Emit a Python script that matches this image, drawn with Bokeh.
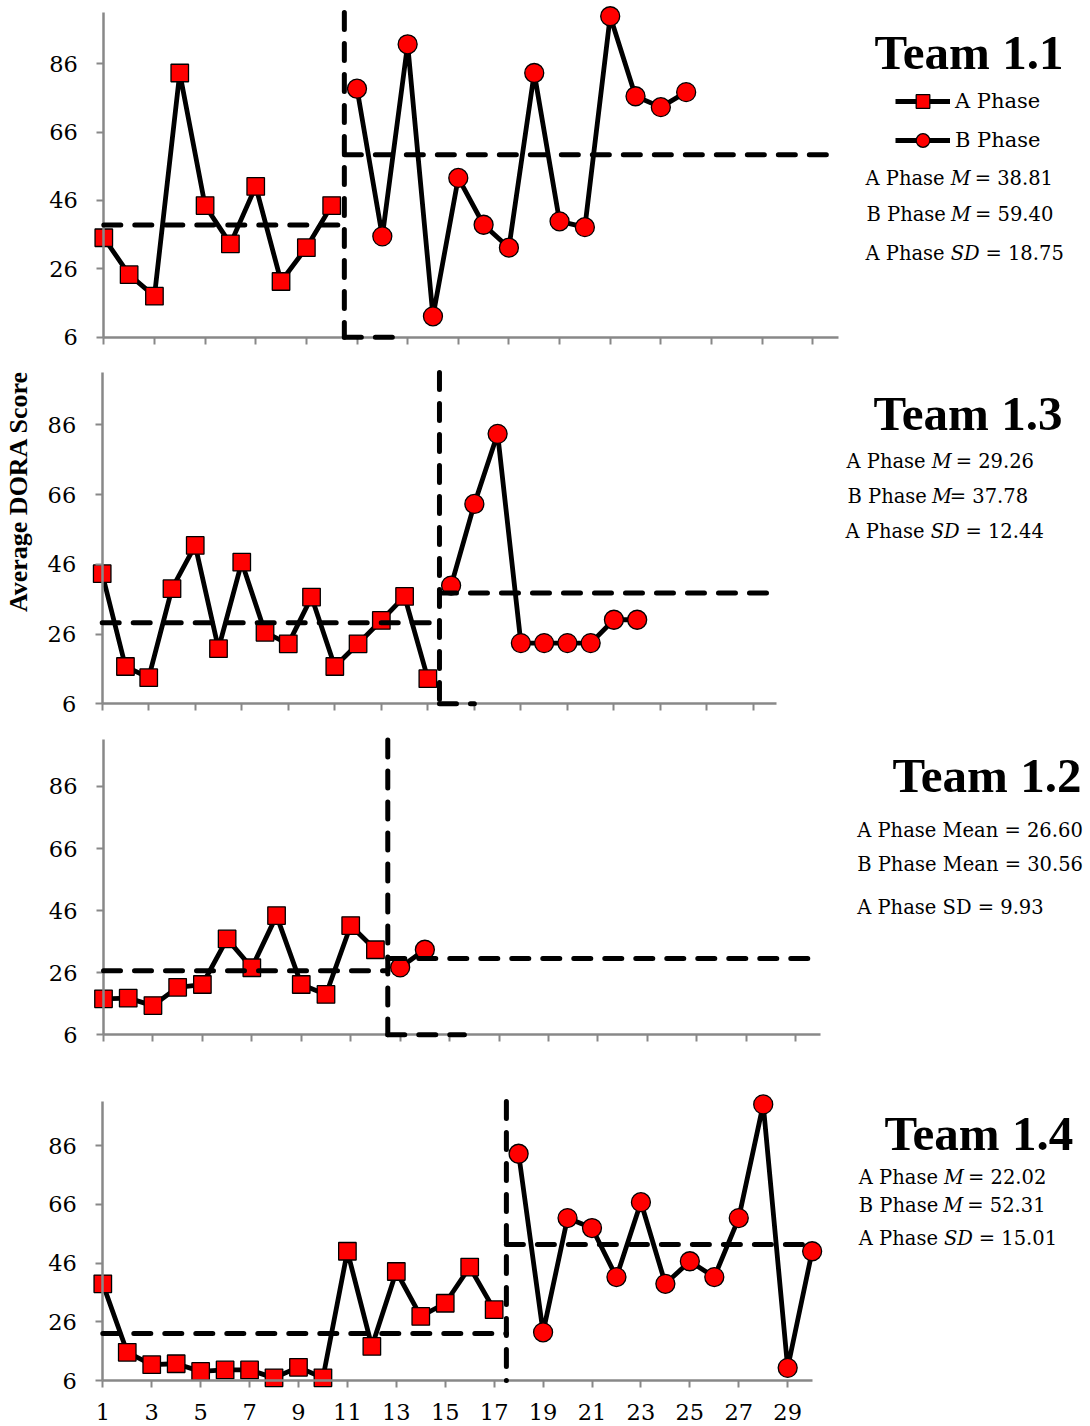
from math import pi
from bokeh.plotting import figure
from bokeh.layouts import column
from bokeh.models import FixedTicker, Legend, LegendItem, ColumnDataSource
from bokeh.core.properties import value
from bokeh.embed import file_html
from bokeh.resources import INLINE

# ---------------- data ----------------
team_names = ["Team 1.1", "Team 1.3", "Team 1.2", "Team 1.4"]

t11_a = [35.1, 24.3, 18.0, 83.3, 44.5, 33.3, 50.1, 22.3, 32.2, 44.5]
t11_b = [78.7, 35.5, 91.7, 12.1, 52.6, 38.9, 32.2, 83.3, 39.9, 38.2, 99.9, 76.5, 73.3, 77.7]

t13_a = [43.3, 16.7, 13.5, 39.0, 51.4, 21.8, 46.6, 26.5, 23.2, 36.6, 16.7, 23.2, 29.9, 36.8, 13.2]
t13_b = [39.9, 63.3, 83.4, 23.4, 23.4, 23.4, 23.4, 30.1, 30.1]

t12_a = [17.6, 17.8, 15.4, 21.3, 22.2, 36.9, 27.6, 44.4, 22.2, 19.0, 41.2, 33.4]
t12_b = [27.7, 33.4]

t14_a = [38.9, 15.6, 11.4, 11.7, 9.1, 9.6, 9.6, 6.9, 10.5, 6.9, 50.0, 17.6, 43.1, 27.8, 32.3, 44.6, 30.1]
t14_b = [83.2, 22.4, 61.3, 57.9, 41.2, 66.7, 38.9, 46.6, 41.2, 61.3, 100.0, 10.3, 50.0]

a_means = [38.81, 29.26, 26.60, 22.02]
b_means = [59.40, 37.78, 30.56, 52.31]
a_sds = [18.75, 12.44, 9.93, 15.01]

phase_change = [10.5, 15.5, 12.5, 17.5]
phase_foot = [12.6, 17.0, 15.6, None]

y_ticks = [6, 26, 46, 66, 86]
x_ticks = list(range(1, 30, 2))
x_first, x_last = 1, 30
y_bottom, y_top = 6, 101

series = [(t11_a, t11_b), (t13_a, t13_b), (t12_a, t12_b), (t14_a, t14_b)]

# ---------------- layout (pixel geometry of each panel) ----------------
PANELS = [
    dict(top=0,    h=356, x0=103.3, dx=25.32, y6=336.7,  dy=3.418),
    dict(top=356,  h=366, x0=101.7, dx=23.26, y6=703.3,  dy=3.4875),
    dict(top=722,  h=358, x0=103.0, dx=24.72, y6=1034.3, dy=3.104),
    dict(top=1080, h=344, x0=102.3, dx=24.46, y6=1380.0, dy=2.9375),
]
TEXT_POS = [
    dict(title=(968.5, 68.3), left=[865, 866, 865], base=[185, 220.7, 259.3]),
    dict(title=(967.5, 430.0), left=[846, 847, 845], base=[467.3, 502.3, 537.3]),
    dict(title=(986.5, 791.7), left=[856.7, 856.7, 856.7], base=[836.7, 871.0, 913.3]),
    dict(title=(978.3, 1150.0), left=[858.3, 858.3, 858.3], base=[1183.3, 1211.7, 1245.0]),
]
FIG_W = 1090
LEFT_PX, RIGHT_PX = 0, FIG_W
BASE_FIX = 0.34   # rendered alphabetic baseline sits ~0.34 em low; compensate


def x_of(pn, px):
    return 1 + (px - pn["x0"]) / pn["dx"]


def y_of(pn, py):
    return 6 + (pn["y6"] - py) / pn["dy"]


FS_STAT = 19.5
FS_TITLE = 49
FS_YLAB = 26
W = {' ': .318, 'A': .722, 'B': .686, 'P': .664, 'h': .644, 'a': .596, 's': .512, 'e': .592,
     '=': .838, '.': .318, 'M': .863, 'n': .644, 'S': .645, 'D': .770}
for d in "0123456789":
    W[d] = .636


def tw(s, fs):
    return sum(W.get(c, .6) for c in s) * fs


def add_stat_line(p, pn, left_px, base_px, parts):
    cur = left_px
    yb = base_px - BASE_FIX * FS_STAT
    xs, ys, ts, st = [], [], [], []
    for txt, ital in parts:
        core = txt.strip(" ")
        lead = len(txt) - len(txt.lstrip(" "))
        trail = len(txt) - len(txt.rstrip(" "))
        cur += lead * W[' '] * FS_STAT
        xs.append(x_of(pn, cur))
        ys.append(y_of(pn, yb))
        ts.append(core)
        st.append("italic" if ital else "normal")
        cur += tw(core, FS_STAT) + trail * W[' '] * FS_STAT + (1.0 if ital else 0.0)
    p.text(x=xs, y=ys, text=ts, text_font_style=st, text_font=value("DejaVu Serif"),
           text_font_size=value(f"{FS_STAT}px"), text_align="left",
           text_baseline="alphabetic", text_color="black")


def stat_parts(i):
    if i == 2:
        return [
            [(f"A Phase Mean = {a_means[i]:.2f}", False)],
            [(f"B Phase Mean = {b_means[i]:.2f}", False)],
            [(f"A Phase SD = {a_sds[i]:.2f}", False)],
        ]
    b_eq = "= " if i == 1 else " = "
    return [
        [("A Phase ", False), ("M", True), (f" = {a_means[i]:.2f}", False)],
        [("B Phase ", False), ("M", True), (f"{b_eq}{b_means[i]:.2f}", False)],
        [("A Phase ", False), ("SD", True), (f" = {a_sds[i]:.2f}", False)],
    ]


AXIS_GREY = "#888888"
DASH = "17 14"
DASH_W = 5
LINE_W = 4.8
figs = []
for i, (pn, (a_vals, b_vals)) in enumerate(zip(PANELS, series)):
    xr = (x_of(pn, LEFT_PX), x_of(pn, RIGHT_PX))
    yr = (y_of(pn, pn["top"] + pn["h"]), y_of(pn, pn["top"]))
    p = figure(width=FIG_W, height=pn["h"], x_range=xr, y_range=yr,
               output_backend="svg", toolbar_location=None,
               min_border=0, min_border_left=0, min_border_right=0,
               min_border_top=0, min_border_bottom=0)
    p.outline_line_color = None
    p.xgrid.visible = False
    p.ygrid.visible = False
    p.background_fill_color = "white"

    xa = p.xaxis[0]
    ya = p.yaxis[0]
    xa.fixed_location = y_bottom
    ya.fixed_location = x_first
    xa.bounds = (x_first, x_last)
    ya.bounds = (y_bottom, y_top)
    xa.ticker = FixedTicker(ticks=x_ticks)
    ya.ticker = FixedTicker(ticks=y_ticks)
    for ax in (xa, ya):
        ax.axis_line_color = AXIS_GREY
        ax.axis_line_width = 2.5
        ax.major_tick_line_color = AXIS_GREY
        ax.major_tick_line_width = 2
        ax.major_tick_in = 0
        ax.major_tick_out = 7
        ax.minor_tick_line_color = None
        ax.major_label_text_font = "DejaVu Serif"
        ax.major_label_text_font_size = "22.5px"
        ax.major_label_text_color = "black"
    ya.major_label_standoff = 19
    xa.major_label_standoff = 16
    if i != 3:
        xa.major_label_text_color = None

    na = len(a_vals)
    src_a = ColumnDataSource(dict(session=list(range(1, na + 1)), score=a_vals))
    src_b = ColumnDataSource(dict(session=list(range(na + 1, na + len(b_vals) + 1)), score=b_vals))

    line_a = p.line("session", "score", source=src_a, line_color="black", line_width=LINE_W,
                    line_join="round")
    line_b = p.line("session", "score", source=src_b, line_color="black", line_width=LINE_W,
                    line_join="round")
    mk_a = p.scatter("session", "score", source=src_a, marker="square", size=17.5,
                     fill_color="#FF0000", line_color="black", line_width=1.3)
    mk_b = p.scatter("session", "score", source=src_b, marker="circle", size=19,
                     fill_color="#FF0000", line_color="black", line_width=1.3)

    pc = phase_change[i]
    dash_kw = dict(line_color="black", line_width=DASH_W, line_dash=DASH, line_cap="round",
                   level="overlay")
    p.line([x_first, pc], [a_means[i], a_means[i]], **dash_kw)
    p.line([pc, x_last], [b_means[i], b_means[i]], **dash_kw)
    p.line([pc, pc], [y_top, y_bottom], **dash_kw)
    if phase_foot[i] is not None:
        p.line([pc, phase_foot[i]], [y_bottom, y_bottom], **dash_kw)

    tp = TEXT_POS[i]
    p.text(x=[x_of(pn, tp["title"][0])], y=[y_of(pn, tp["title"][1] - BASE_FIX * FS_TITLE)],
           text=[team_names[i]],
           text_font=value("Liberation Serif"), text_font_style=value("bold"),
           text_font_size=value(f"{FS_TITLE}px"), text_align="center", text_baseline="alphabetic",
           text_color="black")
    for left, base, parts in zip(tp["left"], tp["base"], stat_parts(i)):
        add_stat_line(p, pn, left, base, parts)

    if i == 0:
        legend = Legend(items=[LegendItem(label=value("A Phase"), renderers=[line_a, mk_a]),
                               LegendItem(label=value("B Phase"), renderers=[line_b, mk_b])],
                        location=(895, 199.3), orientation="vertical",
                        glyph_width=55, glyph_height=34, spacing=5, padding=0, margin=0,
                        label_standoff=5, label_text_font="DejaVu Serif",
                        label_text_font_size="21px", label_text_color="black",
                        border_line_color=None, background_fill_alpha=0)
        p.add_layout(legend)

    if i == 1:
        p.text(x=[x_of(pn, 27 - BASE_FIX * FS_YLAB)], y=[y_of(pn, 490.8)],
               text=["Average DORA Score"], angle=pi / 2,
               text_font=value("Liberation Serif"), text_font_style=value("bold"),
               text_font_size=value(f"{FS_YLAB}px"), text_align="center",
               text_baseline="alphabetic", text_color="black")
    figs.append(p)

layout = column(*figs, spacing=0)
open("out.html", "w").write(file_html(layout, INLINE))
